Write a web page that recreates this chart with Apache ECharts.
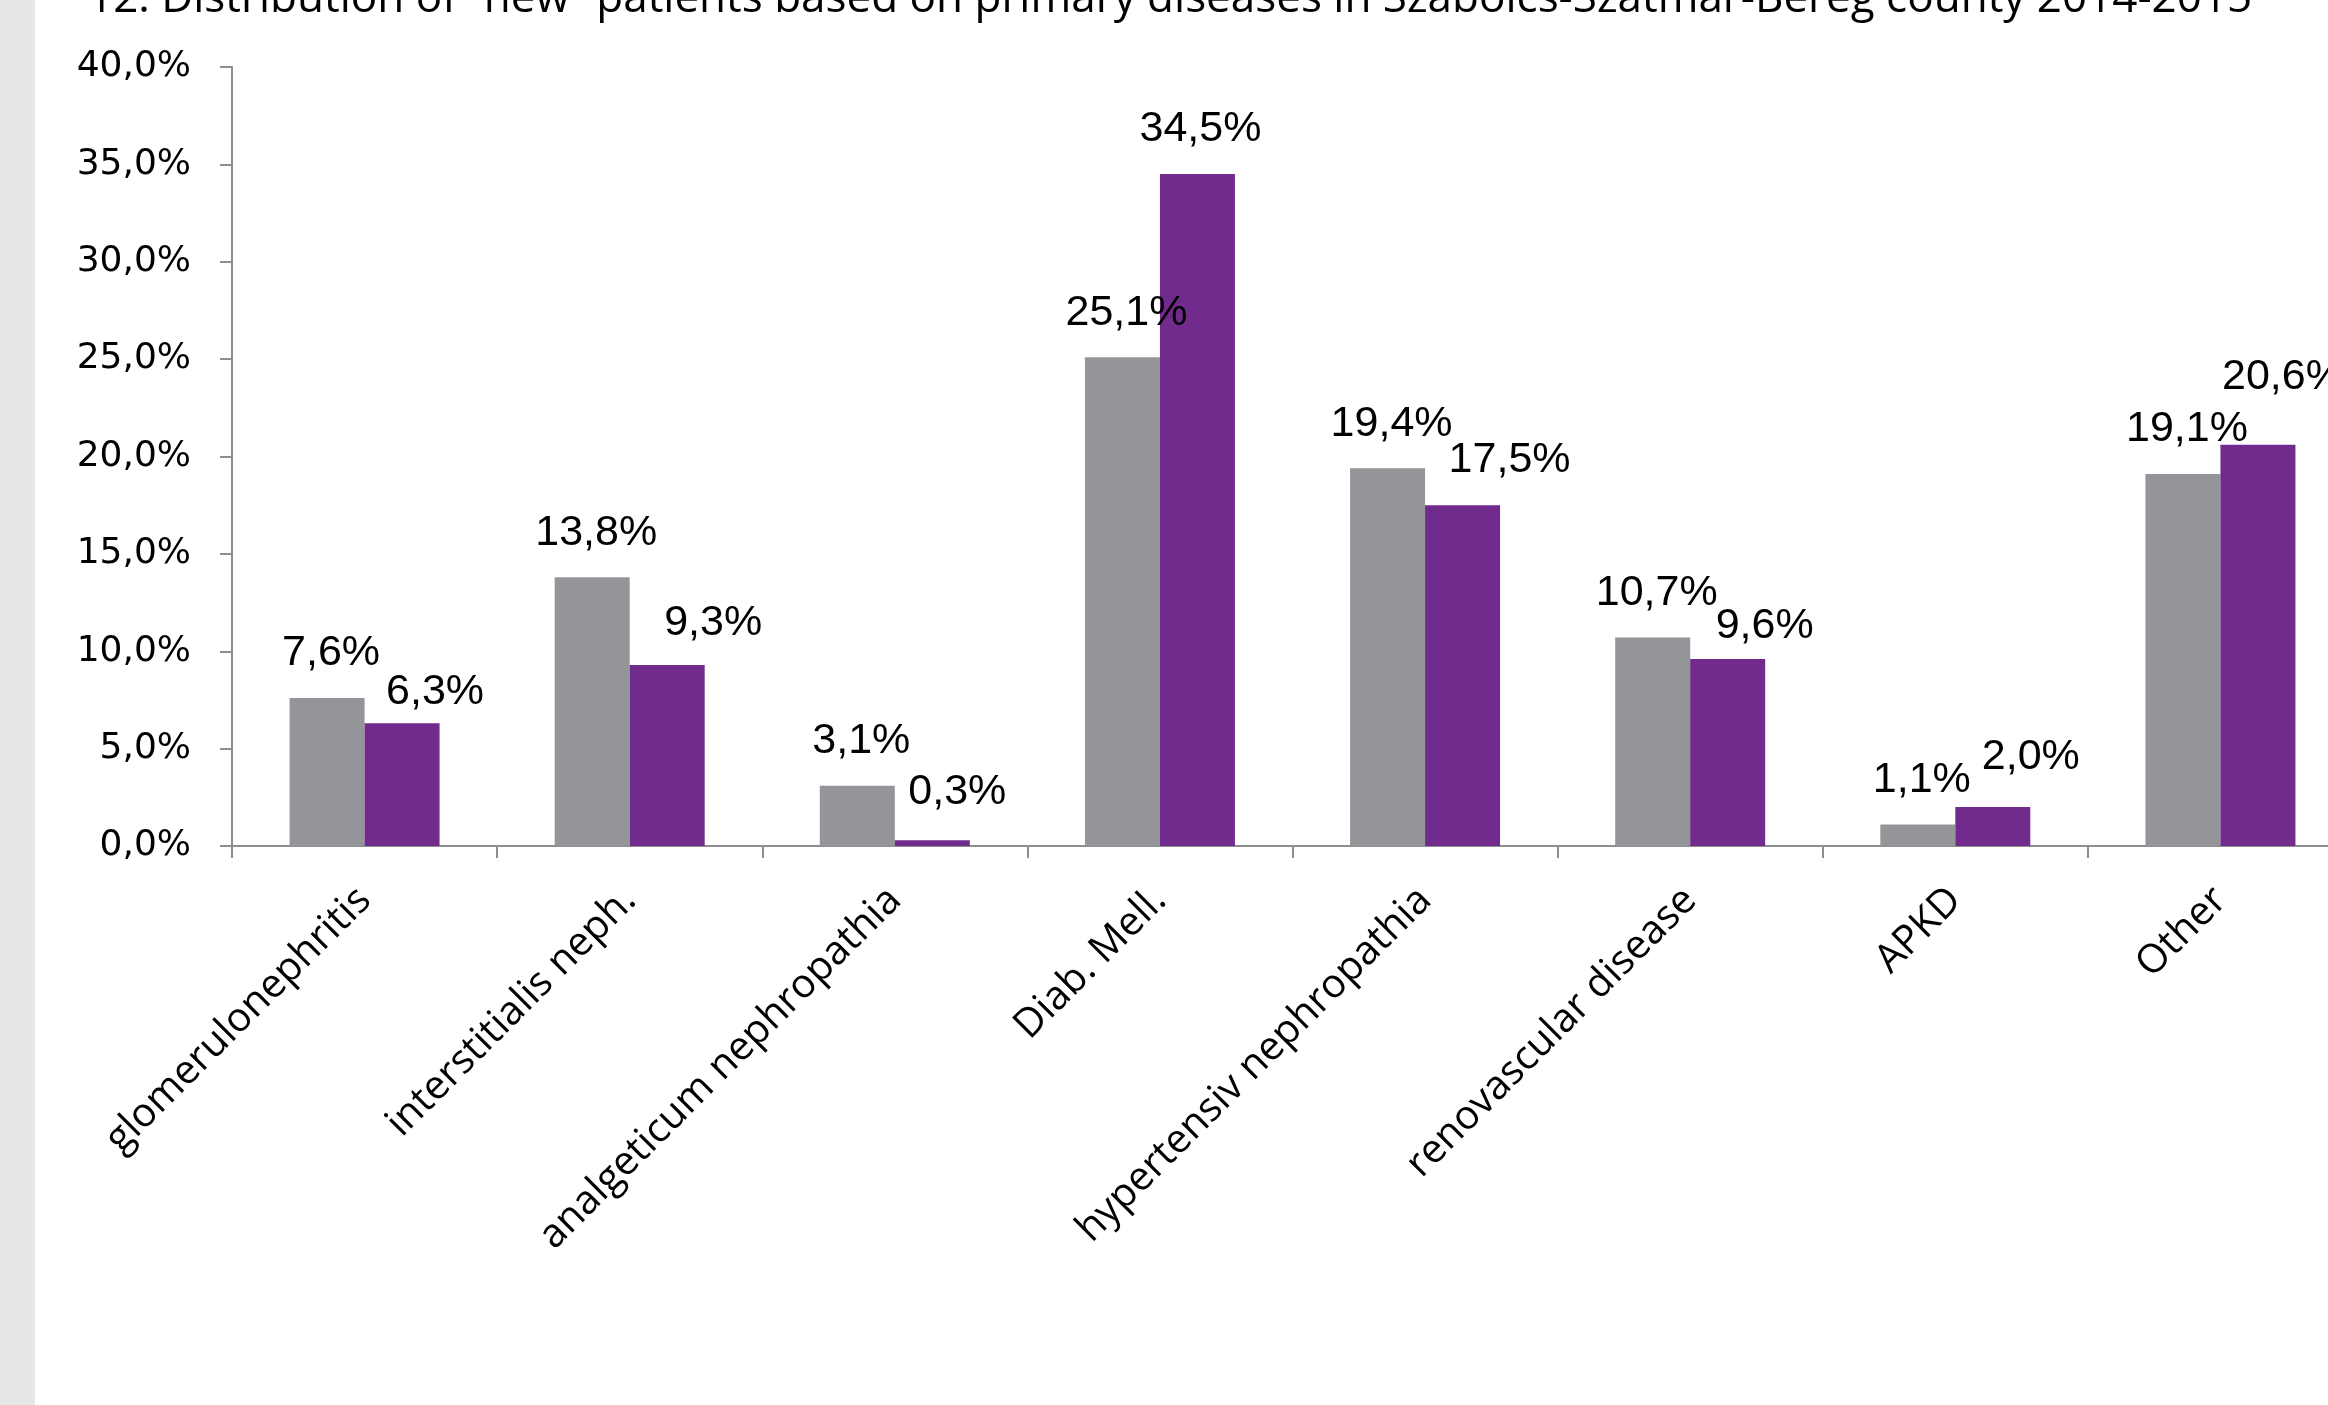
<!DOCTYPE html>
<html>
<head>
<meta charset="utf-8">
<script src="https://cdn.jsdelivr.net/npm/echarts@6/dist/echarts.min.js"></script>
<style>
  html, body { margin: 0; padding: 0; background: #ffffff; }
  #chart { width: 2328px; height: 1405px; }
</style>
</head>
<body>
<div id="chart"></div>
<script>
// Primary diseases of new patients
const categories = [
  'glomerulonephritis',
  'interstitialis neph.',
  'analgeticum nephropathia',
  'Diab. Mell.',
  'hypertensiv nephropathia',
  'renovascular disease',
  'APKD',
  'Other'
];

// Share of new patients (%), grey and purple series
const greyValues = [7.6, 13.8, 3.1, 25.1, 19.4, 10.7, 1.1, 19.1];
const purpleValues = [6.3, 9.3, 0.3, 34.5, 17.5, 9.6, 2.0, 20.6];

// Value axis ticks
const yMin = 0;
const yMax = 40;
const yStep = 5;

// Hand-placed nudges for the purple value labels [dx, dy]
const purpleLabelNudge = [[33, 13], [46, 3], [25, -4], [3, 0], [47, -1], [37, 12], [38, -5], [25, -23]];

const GREY = '#939598';
const PURPLE = '#702b8c';
const AXIS = '#8e8e8e';

const pct = v => Number(v).toFixed(1).replace('.', ',') + '%';

const valueLabel = {
  show: true,
  position: 'top',
  distance: 23,
  fontFamily: '"Liberation Sans", Arial, sans-serif',
  fontSize: 43,
  color: '#000000',
  formatter: p => pct(p.value)
};

const chart = echarts.init(document.getElementById('chart'), null, { renderer: 'canvas' });

chart.setOption({
  backgroundColor: '#ffffff',
  animation: false,
  graphic: [
    {
      type: 'rect',
      z: -10,
      shape: { x: 0, y: 0, width: 35, height: 1405 },
      style: { fill: '#e6e7e8' }
    },
    {
      type: 'text',
      x: 88,
      y: -1,
      style: {
        text: '12. Distribution of \u201cnew\u201d patients based on primary diseases in Szabolcs-Szatmár-Bereg county 2014-2015',
        font: '500 44px "Open Sans", sans-serif',
        fill: '#000000',
        verticalAlign: 'middle'
      }
    }
  ],
  // the plot runs on past the right edge of the page
  grid: {
    left: 232, top: 67, width: 2121, height: 779,
    containLabel: false,
    outerBoundsMode: 'none'
  },
  xAxis: {
    type: 'category',
    data: categories,
    boundaryGap: true,
    axisLine: { lineStyle: { color: AXIS, width: 2 } },
    axisTick: { show: true, interval: 0, length: 12, lineStyle: { color: AXIS, width: 2 } },
    axisLabel: {
      interval: 0,
      rotate: 45,
      margin: 48,
      fontFamily: '"Open Sans", sans-serif',
      fontSize: 40,
      color: '#000000'
    },
    splitLine: { show: false }
  },
  yAxis: {
    type: 'value',
    min: yMin,
    max: yMax,
    interval: yStep,
    axisLine: { show: true, lineStyle: { color: AXIS, width: 2 } },
    axisTick: { show: true, length: 12, lineStyle: { color: AXIS, width: 2 } },
    axisLabel: {
      margin: 41,
      fontFamily: '"DejaVu Sans", sans-serif',
      fontSize: 36,
      color: '#000000',
      formatter: v => pct(v)
    },
    splitLine: { show: false }
  },
  series: [
    {
      name: 'grey',
      type: 'bar',
      barWidth: 75,
      barGap: '0%',
      itemStyle: { color: GREY },
      label: Object.assign({}, valueLabel, { offset: [4, 0] }),
      data: greyValues
    },
    {
      name: 'purple',
      type: 'bar',
      barWidth: 75,
      barGap: '0%',
      itemStyle: { color: PURPLE },
      label: valueLabel,
      data: purpleValues.map((v, i) => ({
        value: v,
        label: { offset: purpleLabelNudge[i] }
      }))
    }
  ]
});
</script>
</body>
</html>
